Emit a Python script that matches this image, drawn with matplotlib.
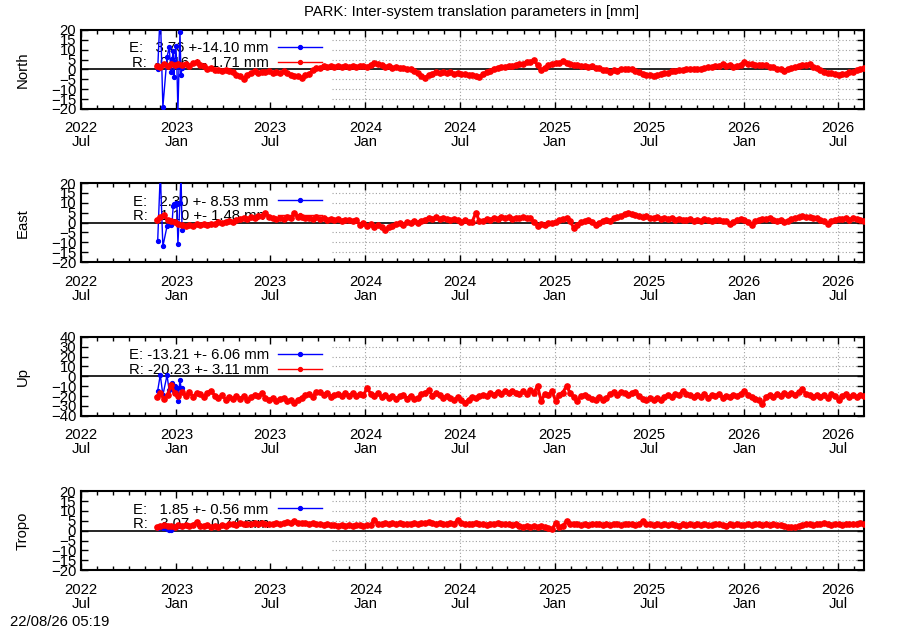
import numpy as np
import pandas as pd
import matplotlib
matplotlib.use('Agg')
import matplotlib.pyplot as plt
import matplotlib.dates as mdates

plt.rcParams['font.family'] = ['Liberation Sans', 'DejaVu Sans']
plt.rcParams['font.size'] = 10.7

# R系列 (週ごとの値, 2022-11-24 から)
r_start = '2022-11-24'

north_r = [2.0, 1.2, 2.8, 1.9, 2.6, 2.2, 3.0, 2.1, 2.7, 1.8,
           3.2, 3.8, 2.4, 1.7, 0.4, 0.8, -0.3, -0.2, -1.0, -0.4,
           -0.9, -1.2, -2.8, -3.2, -4.6, -2.7, -1.6, -0.9, -1.8, -1.1,
           -1.5, -0.8, -1.6, -1.2, -1.9, -1.0, -2.0, -2.6, -3.1, -3.4,
           -4.2, -2.8, -2.3, -0.4, 0.6, 0.9, 1.6, 1.2, 1.9, 1.4,
           1.8, 1.1, 1.7, 1.3, 2.0, 1.2, 1.6, 1.9, 1.4, 2.3,
           3.3, 2.6, 2.2, 1.4, 1.7, 1.0, 1.3, 0.8, 1.0, 0.5,
           0.4, -0.6, -1.8, -3.2, -4.1, -2.8, -2.2, -1.1, -1.6, -1.3,
           -1.7, -1.4, -2.1, -1.9, -2.5, -2.2, -3.0, -2.7, -3.3, -3.6,
           -2.4, -1.3, -0.7, 0.5, 0.9, 1.5, 1.2, 2.0, 1.7, 2.4,
           2.6, 2.9, 3.7, 3.8, 4.6, 2.2, -0.4, 0.9, 2.2, 2.7,
           3.1, 3.4, 4.2, 3.1, 2.9, 2.2, 2.4, 1.7, 2.0, 1.5,
           1.6, 0.8, 0.6, -0.2, -0.4, -1.1, -0.5, -0.6, 0.1, 0.0,
           0.4, 0.1, -0.6, -1.4, -2.2, -2.6, -2.7, -3.2, -2.9, -2.4,
           -1.9, -1.6, -0.8, -0.6, -0.1, -0.3, 0.2, 0.0, 0.5, 0.2,
           0.4, 0.6, 1.2, 1.3, 2.0, 1.9, 2.6, 2.0, 2.1, 1.5,
           1.7, 2.4, 3.8, 3.0, 2.9, 2.3, 2.5, 2.1, 2.2, 1.4,
           1.3, 0.4, 0.1, -0.6, 0.3, 0.7, 1.5, 1.6, 2.3, 2.2,
           2.6, 1.4, 0.7, -0.5, -1.2, -1.8, -1.7, -2.3, -2.6, -2.2,
           -2.1, -1.4, -1.2, -0.4, 0.2, 0.6]

east_r = [1.5, 2.8, 3.6, 1.2, 0.8, 0.4, -0.6, -1.2, -1.9, -1.0,
          -1.6, -0.7, -1.2, -0.5, -1.4, -0.6, -0.9, 0.2, -0.3, 0.5,
          0.7, 0.1, 1.4, 1.9, 2.5, 1.8, 2.6, 2.3, 3.4, 3.1,
          4.6, 3.0, 2.4, 1.7, 2.3, 1.6, 2.8, 2.2, 5.0, 2.6,
          3.0, 2.1, 2.5, 1.8, 2.6, 1.9, 2.3, 1.4, 2.0, 1.2,
          1.7, 1.0, 1.5, 1.1, 0.6, 1.3, -1.0, -0.4, -1.5, -0.8,
          -2.0, -1.4, -2.4, -3.6, -2.0, -1.5, -0.7, -0.4, -1.0, 0.2,
          -0.3, 0.6, 0.0, 1.0, 1.5, 2.4, 1.8, 2.7, 1.9, 2.5,
          2.0, 1.5, 1.9, 1.2, 0.4, 1.1, 0.2, 0.5, 5.0, 0.6,
          1.0, 1.8, 1.4, 2.4, 2.0, 2.8, 2.2, 2.6, 1.9, 2.5,
          2.2, 2.9, 2.4, 2.1, 0.3, -1.5, -0.8, -1.0, -0.4, 0.0,
          0.2, 1.3, 1.9, 2.2, 0.6, -2.7, -1.2, 0.4, 0.8, 1.2,
          0.5, -1.0, -0.3, 0.9, 1.5, 1.0, 2.1, 2.9, 3.3, 4.1,
          5.0, 4.2, 3.6, 3.2, 2.6, 3.1, 2.3, 2.4, 2.9, 1.9,
          2.2, 1.6, 2.5, 1.4, 2.0, 1.5, 1.2, 1.8, 0.9, 1.4,
          1.0, 1.6, 1.2, 0.8, 1.5, 1.1, 0.6, 1.0, -0.5, 0.4,
          1.2, 1.9, 1.4, 0.3, -1.0, 0.6, 1.5, 2.0, 1.6, 2.2,
          1.5, 1.0, 1.3, 0.4, 0.7, 1.6, 2.2, 2.8, 3.2, 2.7,
          3.0, 2.5, 2.2, 1.4, 0.9, -0.7, 0.8, 1.5, 1.9, 1.6,
          2.2, 1.4, 2.4, 1.8, 1.2, 0.9]

up_r = [-20.5, -17.0, -23.0, -18.5, -9.0, -17.0, -20.0, -15.5, -19.5, -16.0,
        -20.5, -17.0, -18.0, -21.0, -16.5, -14.5, -19.5, -22.0, -19.0, -23.5,
        -20.5, -23.0, -19.5, -22.5, -20.0, -24.0, -21.0, -19.0, -20.0, -17.0,
        -21.5, -24.0, -22.0, -25.0, -23.0, -21.5, -25.5, -24.0, -27.0, -23.5,
        -21.5, -19.0, -17.5, -20.5, -16.0, -15.5, -19.0, -16.5, -20.5, -19.0,
        -17.5, -20.0, -16.5, -19.5, -17.0, -20.0, -18.0, -19.0, -12.0, -17.5,
        -20.0, -17.0, -21.0, -18.5, -22.0, -19.5, -23.0, -20.0, -18.5, -22.5,
        -19.5, -23.0, -22.0, -18.0, -16.5, -14.0, -19.5, -17.0, -19.0, -21.5,
        -20.0, -22.0, -24.5, -21.0, -23.5, -27.0, -23.5, -21.0, -22.0, -20.0,
        -18.5, -19.5, -17.0, -18.5, -15.5, -17.5, -15.0, -17.0, -14.5, -16.5,
        -18.0, -15.0, -17.5, -14.0, -16.5, -10.0, -25.0, -18.0, -19.0, -15.0,
        -25.0, -19.0, -16.5, -9.5, -17.0, -21.0, -25.0, -19.5, -18.5, -21.0,
        -22.5, -23.5, -21.0, -24.0, -22.0, -18.0, -16.0, -18.5, -15.5, -17.0,
        -19.0, -16.5, -16.0, -20.0, -22.5, -24.5, -22.0, -24.0, -21.5, -24.0,
        -21.0, -18.5, -20.5, -17.5, -19.0, -14.5, -18.0, -19.0, -21.0, -18.5,
        -20.5, -18.0, -21.5, -19.0, -20.0, -18.0, -21.5, -19.5, -20.5, -18.5,
        -20.0, -17.5, -14.5, -19.0, -21.0, -22.5, -24.0, -28.5, -21.0, -18.5,
        -20.5, -17.5, -19.5, -16.5, -19.0, -17.0, -18.5, -16.0, -13.0, -18.0,
        -19.0, -21.0, -18.5, -20.5, -19.0, -21.5, -18.0, -19.5, -23.5, -20.0,
        -18.0, -20.5, -19.0, -21.0, -18.5, -20.0]

tropo_r = [1.8, 2.4, 2.9, 2.2, 2.6, 2.0, 2.8, 2.4, 3.0, 2.6,
           2.9, 4.4, 2.5, 2.2, 2.7, 1.9, 2.4, 2.1, 2.8, 2.3,
           3.2, 3.6, 3.1, 3.8, 3.3, 3.6, 3.2, 3.9, 3.4, 3.7,
           3.3, 3.6, 3.5, 3.9, 3.4, 3.7, 4.2, 3.8, 4.9, 4.0,
           3.7, 4.1, 3.6, 3.9, 3.5, 3.3, 3.0, 3.4, 2.7, 3.1,
           2.6, 3.0, 2.5, 2.9, 2.6, 3.1, 2.7, 2.4, 3.0, 2.8,
           5.5, 3.6, 3.2, 3.8, 3.3, 3.7, 3.4, 3.9, 3.5, 3.6,
           3.2, 3.8, 3.4, 4.1, 3.7, 4.3, 3.9, 3.5, 4.0, 3.6,
           3.4, 3.9, 3.6, 5.5, 3.8, 3.4, 3.6, 3.3, 3.7, 3.2,
           3.5, 3.1, 3.6, 3.3, 3.7, 3.4, 3.2, 3.6, 3.1, 3.5,
           2.4, 2.0, 2.6, 1.8, 2.3, 1.9, 2.2, 1.6, 1.1, 0.9,
           3.9, 2.0, 2.4, 4.9, 3.6, 3.2, 3.5, 3.0, 3.4, 3.1,
           3.5, 3.2, 3.6, 2.9, 3.4, 3.1, 3.5, 3.3, 3.0, 3.4,
           3.2, 3.6, 3.0, 3.4, 4.9, 3.5, 3.2, 3.0, 3.4, 2.8,
           3.3, 2.9, 3.4, 3.0, 2.6, 3.2, 2.9, 3.5, 3.0, 3.3,
           2.8, 3.4, 3.1, 2.7, 3.2, 3.6, 3.0, 2.5, 3.3, 2.9,
           3.5, 3.1, 2.8, 3.4, 3.0, 3.6, 3.2, 2.9, 3.3, 3.0,
           3.4, 2.8, 3.1, 2.3, 1.8, 2.0, 1.7, 2.4, 2.9, 3.2,
           3.6, 3.0, 3.5, 3.2, 3.7, 3.3, 3.0, 3.6, 3.4, 3.1,
           3.5, 3.2, 3.6, 3.3, 3.7, 3.4]

# E系列 (最初の数週間だけ)
e_dates = ['2022-11-26', '2022-12-01', '2022-12-06', '2022-12-14', '2022-12-18',
           '2022-12-22', '2022-12-24', '2022-12-26', '2022-12-27', '2022-12-29',
           '2022-12-31', '2023-01-02', '2023-01-04', '2023-01-08', '2023-01-10',
           '2023-01-12']
north_e = [0.3, 30.0, -19.0, 6.2, 11.2, -1.4, 5.4, 9.6, -3.9, 3.7,
           12.0, 2.0, -21.0, 19.0, -3.0, 1.0]
east_e = [-9.2, 25.0, -12.0, -1.9, -0.5, -1.0, 1.0, 8.5, 9.2, 8.8,
          10.0, 9.5, -10.8, 10.0, 25.0, -4.0]
up_e = [-14.5, 1.5, -19.0, 1.0, -13.5, -11.0, -6.5, -10.0, -15.0, -9.5,
        -12.0, -11.5, -25.0, -3.5, -11.5, -12.0]
tropo_e = [1.5, 1.8, 1.2, 0.6, 0.2, 0.5, 0.9, 1.4, 1.9, 2.1,
           1.7, 2.3, 2.6, 2.2, 2.5, 2.4]

panel_names = ['North', 'East', 'Up', 'Tropo']
e_labels = ['E:   3.76 +-14.10 mm', 'E:   2.30 +- 8.53 mm',
            'E: -13.21 +- 6.06 mm', 'E:   1.85 +- 0.56 mm']
r_labels = ['R:  -0.16 +- 1.71 mm', 'R:   1.10 +- 1.48 mm',
            'R: -20.23 +- 3.11 mm', 'R:   3.07 +- 0.74 mm']
y_limits = [20, 20, 40, 20]
y_steps = [5, 5, 10, 5]

title = 'PARK: Inter-system translation parameters in [mm]'
stamp = '22/08/26 05:19'

x_min = pd.Timestamp('2022-07-01')
x_max = pd.Timestamp('2026-08-20')
grid_from = pd.Timestamp('2023-10-28')  # グリッドはここから右だけ

r_series = [north_r, east_r, up_r, tropo_r]
e_series = [north_e, east_e, up_e, tropo_e]
e_time = pd.to_datetime(e_dates)

fig = plt.figure(figsize=(9, 6.3), dpi=100)

# 各パネルの位置 (下端)
bottoms = [0.827, 0.584, 0.340, 0.095]
height = 0.1254

for k in range(4):
    ax = fig.add_axes([0.09, bottoms[k], 0.87, height])
    r_time = pd.date_range(r_start, periods=len(r_series[k]), freq='7D')
    lim = y_limits[k]
    yt = np.arange(-lim, lim + 1, y_steps[k])

    # grid (dotted, only right part)
    for y in yt:
        if y == 0 or abs(y) == lim:
            continue
        ax.plot([grid_from, x_max], [y, y], color='#a0a0a0', lw=0.8,
                ls=(0, (1, 2)), zorder=1)
    for m in pd.date_range('2022-07-01', '2026-08-01', freq='MS'):
        if m.month in (1, 7) and m > grid_from:
            ax.axvline(m, color='#a0a0a0', lw=0.8, ls=(0, (1, 2)), zorder=1)

    ax.axhline(0, color='black', lw=1.2, zorder=2)

    ax.plot(e_time, e_series[k], color='blue', lw=1.0, marker='o',
            markersize=2.8, label=e_labels[k], zorder=3)
    ax.plot(r_time, r_series[k], color='red', lw=2.2, marker='o',
            markersize=3.8, label=r_labels[k], zorder=4)

    ax.set_xlim(x_min, x_max)
    ax.set_ylim(-lim, lim)
    ax.set_yticks(yt)
    ax.xaxis.set_major_locator(mdates.MonthLocator(bymonth=(1, 7)))
    ax.xaxis.set_minor_locator(mdates.MonthLocator())
    ax.xaxis.set_major_formatter(mdates.DateFormatter('%Y\n%b'))
    ax.tick_params(which='both', direction='in', top=True, right=True, width=1)
    ax.tick_params(which='major', length=5)
    ax.tick_params(axis='x', which='major', pad=9)
    ax.tick_params(which='minor', length=3)
    for s in ax.spines.values():
        s.set_linewidth(1.5)

    ax.set_ylabel(panel_names[k])
    ax.yaxis.set_label_coords(-0.065, 0.5)

    leg = ax.legend(loc='upper right', bbox_to_anchor=(0.312, 0.893),
                    frameon=False, markerfirst=False, handlelength=3.0,
                    handletextpad=0.6, labelspacing=0.05, borderpad=0.2,
                    numpoints=1, borderaxespad=0)
    leg.set_zorder(2.5)
    for h in leg.legend_handles:
        h.set_linewidth(1.0)
        h.set_markersize(2.8)

    for lbl in ax.get_xticklabels():
        lbl.set_linespacing(1.0)

fig.text(0.524, 0.981, title, ha='center', va='center')
fig.text(0.011, 0.013, stamp, ha='left', va='center')

fig.savefig('out.png', dpi=100)
